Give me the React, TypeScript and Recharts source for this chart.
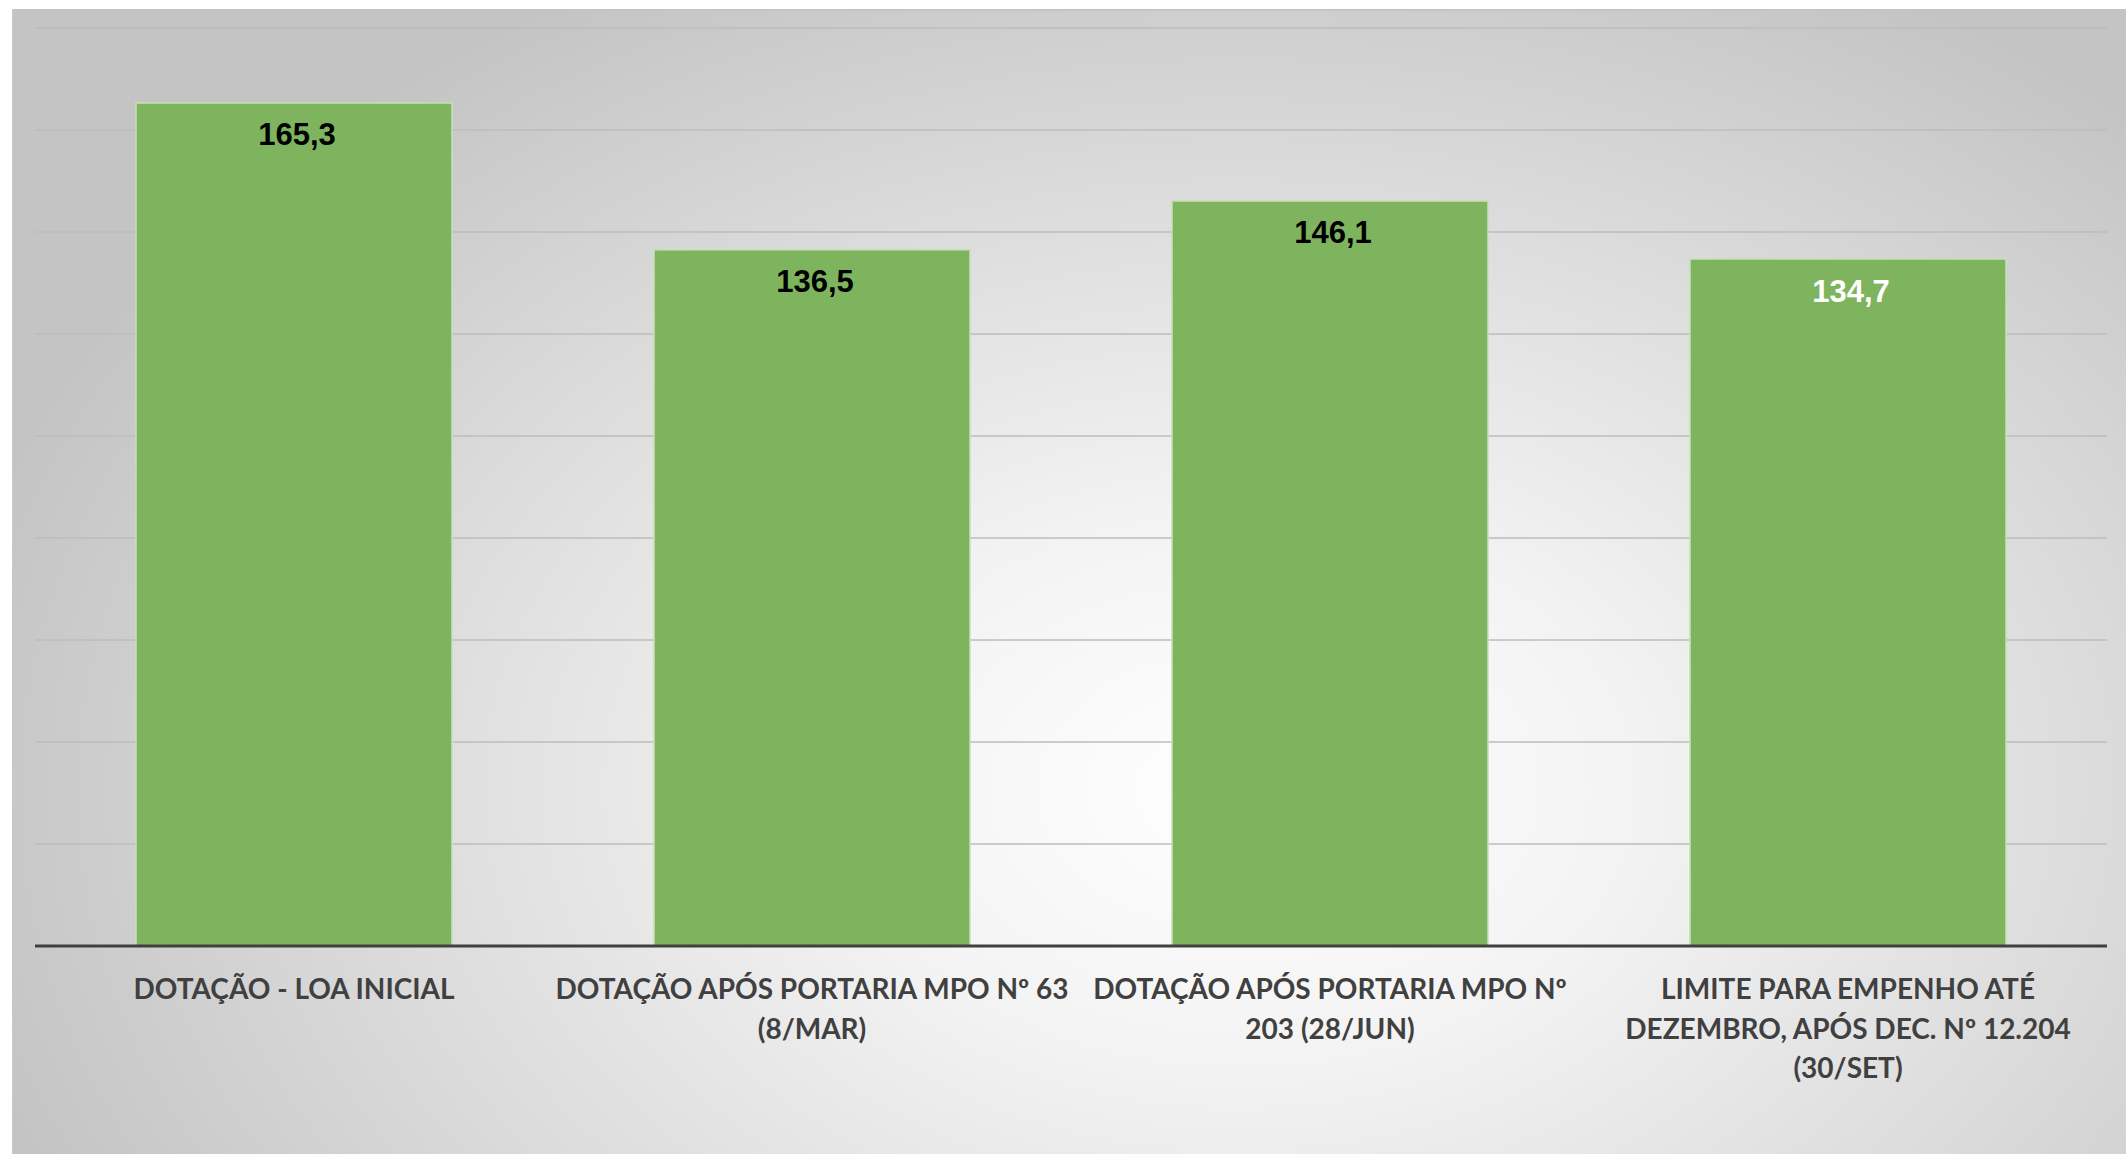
import React from 'react';
import { BarChart, Bar, XAxis, YAxis, CartesianGrid, LabelList } from 'recharts';

const categories = [
  'DOTAÇÃO - LOA INICIAL',
  'DOTAÇÃO APÓS PORTARIA MPO Nº 63\n(8/MAR)',
  'DOTAÇÃO APÓS PORTARIA MPO Nº\n203 (28/JUN)',
  'LIMITE PARA EMPENHO ATÉ\nDEZEMBRO, APÓS DEC. Nº 12.204\n(30/SET)',
];
const values = [165.3, 136.5, 146.1, 134.7];
const yTicks = [0, 20, 40, 60, 80, 100, 120, 140, 160, 180];

const data = categories.map((c, i) => ({ name: c, value: values[i] }));

const labelFill = (i: number) => (i === values.length - 1 ? '#ffffff' : '#000000');

const CategoryTick = (props: any) => {
  const { x, y, payload } = props;
  const lines = String(payload.value).split('\n');
  return (
    <g transform={`translate(${x},${y})`}>
      {lines.map((l: string, i: number) => (
        <text
          key={i}
          x={0}
          y={34 + i * 39.5}
          textAnchor="middle"
          dominantBaseline="central"
          fill="#404040"
          fontFamily="Lato, 'Open Sans', sans-serif"
          fontWeight={700}
          fontSize={28}
        >
          {l}
        </text>
      ))}
    </g>
  );
};

const ValueLabel = (props: any) => {
  const { x, y, width, value, index } = props;
  return (
    <text
      x={x + width / 2 + 3}
      y={y + 32}
      textAnchor="middle"
      dominantBaseline="central"
      fill={labelFill(index)}
      fontFamily="'Liberation Sans', Arial, sans-serif"
      fontWeight={700}
      fontSize={31}
    >
      {Number(value).toFixed(1).replace('.', ',')}
    </text>
  );
};

export default function App() {
  return (
    <div style={{ position: 'absolute', left: 0, top: 0, width: 2126, height: 1154, background: '#ffffff', overflow: 'hidden' }}>
      <div
        style={{
          position: 'absolute',
          left: 12,
          top: 9,
          width: 2114,
          height: 1145,
          borderTop: '2px solid #c4c4c4',
          borderLeft: '1px solid #c9c9c9',
          background:
            'radial-gradient(ellipse 62% 80% at 58% 68%, #ffffff 0%, #f3f3f3 30%, #dcdcdc 65%, #c4c4c4 100%)',
        }}
      />
      <div style={{ position: 'absolute', left: 0, top: 0 }}>
        <BarChart
          width={2126}
          height={1154}
          data={data}
          margin={{ top: 28, right: 19, bottom: 0, left: 35 }}
          barCategoryGap="19.5%"
        >
          <CartesianGrid vertical={false} stroke="#bdbdbd" strokeWidth={1.5} />
          <YAxis hide domain={[0, 180]} ticks={yTicks} />
          <XAxis
            dataKey="name"
            height={208}
            interval={0}
            tickLine={false}
            axisLine={{ stroke: '#404040', strokeWidth: 3 }}
            tick={<CategoryTick />}
          />
          <Bar dataKey="value" fill="#7fb45e" stroke="#c9e0b8" strokeWidth={1.5} isAnimationActive={false}>
            <LabelList dataKey="value" content={<ValueLabel />} />
          </Bar>
        </BarChart>
      </div>
    </div>
  );
}
